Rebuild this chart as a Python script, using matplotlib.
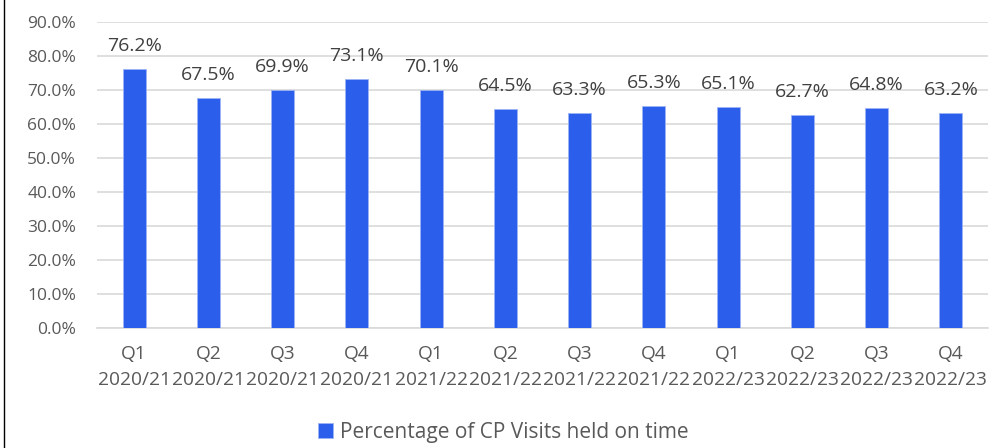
import matplotlib.pyplot as plt
import matplotlib.lines as mlines

quarters = ["Q1", "Q2", "Q3", "Q4"] * 3
years = ["2020/21"] * 4 + ["2021/22"] * 4 + ["2022/23"] * 4
values = [76.2, 67.5, 69.9, 73.1, 70.1, 64.5, 63.3, 65.3, 65.1, 62.7, 64.8, 63.2]
series_name = "Percentage of CP Visits held on time"

plt.rcParams['font.family'] = ['Open Sans', 'DejaVu Sans']

fig = plt.figure(figsize=(10.06, 4.48), dpi=100)
ax = fig.add_axes([97 / 1006, 1 - 328 / 448, (988 - 97) / 1006, (328 - 22) / 448])

x = list(range(len(values)))
bars = ax.bar(x, values, width=0.31, color="#2B5EEB", edgecolor="#9DB4F5",
              linewidth=0.6, zorder=3, label=series_name)

for xi, v in zip(x, values):
    ax.annotate(f"{v:.1f}%", (xi, v), xytext=(0, 13), textcoords="offset points",
                ha="center", va="baseline", fontsize=14, color="#404040")

ax.set_xlim(-0.5, len(values) - 0.5)
ax.set_ylim(0, 90)
ax.set_yticks(range(0, 91, 10))
ax.set_yticklabels([f"{t:.1f}%" for t in range(0, 91, 10)])
ax.set_xticks(x)
ax.set_xticklabels([f"{q}\n{y}" for q, y in zip(quarters, years)], linespacing=1.6)
ax.tick_params(axis="x", length=0, labelsize=13.8, colors="#595959", pad=12)
ax.tick_params(axis="y", length=0, labelsize=12.5, colors="#595959", pad=15)

ax.grid(axis="y", color="#D9D9D9", linewidth=1.2, zorder=0)
for s in ["top", "right", "left"]:
    ax.spines[s].set_visible(False)
ax.spines["bottom"].set_color("#D9D9D9")
ax.spines["bottom"].set_linewidth(1.2)

fig.legend(handles=[bars], labels=[series_name], loc="center",
           bbox_to_anchor=(0.5, 1 - 432 / 448), frameon=False, fontsize=15,
           labelcolor="#595959", handlelength=0.75, handleheight=0.75,
           handletextpad=0.3)

fig.add_artist(mlines.Line2D([3.5 / 1006, 3.5 / 1006], [0, 1], color="black",
                             linewidth=1.0, transform=fig.transFigure))

fig.savefig("out.png", dpi=100)
